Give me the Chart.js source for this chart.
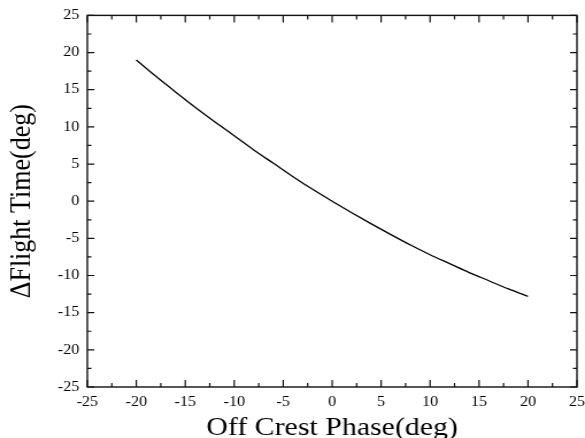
<!DOCTYPE html>
<html><head><meta charset="utf-8">
<script src="https://cdn.jsdelivr.net/npm/chart.js@4/dist/chart.umd.min.js"></script>
<style>
html,body{margin:0;padding:0;background:#fff;overflow:hidden;width:585px;height:438px}
#wrap{width:509px;height:438px;transform:scaleX(1.1493);transform-origin:0 0}
</style>
</head><body>
<div id="wrap"><canvas id="c" width="509" height="438"></canvas></div>
<script>
const phaseDeg = [-20,-18,-16,-14,-12,-10,-8,-6,-4,-2,0,2,4,6,8,10,12,14,16,18,20];
const flightTime = [19.0,16.8,14.7,12.65,10.7,8.8,6.9,5.1,3.3,1.6,0.0,-1.55,-3.05,-4.5,-5.9,-7.2,-8.4,-9.6,-10.7,-11.8,-12.8];
const xTickValues = [-25,-20,-15,-10,-5,0,5,10,15,20,25];
const yTickValues = [-25,-20,-15,-10,-5,0,5,10,15,20,25];
const xTitle = 'Off Crest Phase(deg)';
const yTitle = '\u0394Flight Time(deg)';

const FONT = "'Liberation Serif', 'DejaVu Serif', serif";

const framePlugin = {
  id: 'frameTicks',
  afterDatasetsDraw(chart) {
    const {ctx, chartArea: a, scales: {x, y}} = chart;
    ctx.save();
    ctx.strokeStyle = '#111';
    ctx.lineWidth = 1.4;
    ctx.strokeRect(a.left, a.top, a.right - a.left, a.bottom - a.top);
    ctx.lineWidth = 1.2;
    ctx.beginPath();
    for (let v = -25; v <= 25; v += 2.5) {
      const major = Math.abs(v % 5) < 1e-9;
      const Ly = major ? 7 : 4;
      const Lx = major ? 6 : 3.5;
      const px = x.getPixelForValue(v);
      ctx.moveTo(px, a.bottom); ctx.lineTo(px, a.bottom - Ly);
      ctx.moveTo(px, a.top); ctx.lineTo(px, a.top + Ly);
      const py = y.getPixelForValue(v);
      ctx.moveTo(a.left, py); ctx.lineTo(a.left + Lx, py);
      ctx.moveTo(a.right, py); ctx.lineTo(a.right - Lx, py);
    }
    ctx.stroke();
    ctx.restore();
  }
};

new Chart(document.getElementById('c'), {
  type: 'line',
  data: {
    datasets: [{
      data: phaseDeg.map((p, i) => ({x: p, y: flightTime[i]})),
      borderColor: '#000',
      borderWidth: 1.3,
      pointRadius: 0,
      cubicInterpolationMode: 'monotone',
      fill: false
    }]
  },
  options: {
    responsive: false,
    animation: false,
    devicePixelRatio: 1,
    layout: {padding: {top: 14, right: 7, left: 0, bottom: 0}},
    plugins: {legend: {display: false}, tooltip: {enabled: false}},
    scales: {
      x: {
        type: 'linear', min: -25, max: 25,
        afterFit(s) { s.height = 51; s.paddingRight = 0; },
        afterBuildTicks(s) { s.ticks = xTickValues.map(v => ({value: v})); },
        ticks: {color: '#000', font: {family: FONT, size: 14}, padding: 7, maxRotation: 0, autoSkip: false},
        grid: {display: true, drawOnChartArea: false, drawTicks: false},
        border: {display: false},
        title: {display: true, text: xTitle, color: '#000', font: {family: FONT, size: 26, lineHeight: 1}, padding: {top: 0, bottom: -3}}
      },
      y: {
        type: 'linear', min: -25, max: 25,
        afterFit(s) { s.width = 76; },
        afterBuildTicks(s) { s.ticks = yTickValues.map(v => ({value: v})); },
        ticks: {color: '#000', font: {family: FONT, size: 14}, padding: 7, autoSkip: false},
        grid: {display: true, drawOnChartArea: false, drawTicks: false},
        border: {display: false},
        title: {display: true, text: yTitle, color: '#000', font: {family: FONT, size: 26, lineHeight: 1}, padding: {top: 6, bottom: 0}}
      }
    }
  },
  plugins: [framePlugin]
});
</script>
</body></html>
